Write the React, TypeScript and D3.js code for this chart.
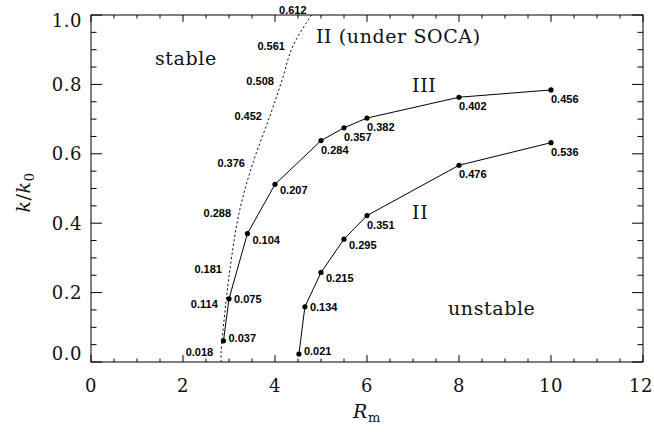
import React from 'react';
import * as d3 from 'd3';

const width = 654;
const height = 432;
const margin = {top: 15, right: 11, bottom: 70, left: 91};

// mode III (solid), growth rates printed next to the dots
const rmModeIII = [2.88, 3.0, 3.4, 4.0, 5.0, 5.5, 6.0, 8.0, 10.0];
const kModeIII = [0.061, 0.182, 0.37, 0.512, 0.638, 0.675, 0.703, 0.763, 0.784];
const rateModeIII = ['0.037', '0.075', '0.104', '0.207', '0.284', '0.357', '0.382', '0.402', '0.456'];

// mode II (solid)
const rmModeII = [4.52, 4.65, 5.0, 5.5, 6.0, 8.0, 10.0];
const kModeII = [0.023, 0.159, 0.258, 0.354, 0.422, 0.567, 0.632];
const rateModeII = ['0.021', '0.134', '0.215', '0.295', '0.351', '0.476', '0.536'];

// mode II under SOCA (dotted)
const rmSoca = [2.83, 2.93, 3.02, 3.22, 3.52, 3.89, 4.15, 4.39, 4.86];
const kSoca = [0.03, 0.167, 0.267, 0.43, 0.574, 0.709, 0.811, 0.911, 1.013];
const rateSoca = ['0.018', '0.114', '0.181', '0.288', '0.376', '0.452', '0.508', '0.561', '0.612'];

const xTicks = [0, 2, 4, 6, 8, 10, 12];
const yTicks = [0.0, 0.2, 0.4, 0.6, 0.8, 1.0];

const notes = [
  {text: 'stable', rm: 1.39, k: 0.856},
  {text: 'II (under SOCA)', rm: 4.89, k: 0.919},
  {text: 'III', rm: 6.98, k: 0.778},
  {text: 'II', rm: 6.98, k: 0.412},
  {text: 'unstable', rm: 7.76, k: 0.135},
];

const serif = '"DejaVu Serif", "Liberation Serif", serif';
const sans = '"Liberation Sans", Arial, sans-serif';

type Pt = {x: number; y: number; label: string};

export default function App() {
  const x0 = margin.left;
  const x1 = width - margin.right;
  const y0 = height - margin.bottom;
  const y1 = margin.top;

  const x = d3.scaleLinear().domain([0, 12]).range([x0, x1]);
  const y = d3.scaleLinear().domain([0, 1]).range([y0, y1]);

  const toPts = (rm: number[], k: number[], lab: string[]): Pt[] =>
    rm.map((r, i) => ({x: x(r), y: y(k[i]), label: lab[i]}));

  const curves = [
    toPts(rmModeIII, kModeIII, rateModeIII),
    toPts(rmModeII, kModeII, rateModeII),
  ];
  const soca = toPts(rmSoca, kSoca, rateSoca);

  const solid = d3.line<Pt>().x(d => d.x).y(d => d.y);
  const dotted = d3
    .line<Pt>()
    .x(d => d.x)
    .y(d => d.y)
    .curve(d3.curveCatmullRom);
  // run the dotted curve straight down to the axis
  const socaPath = dotted([{x: soca[0].x, y: y(0), label: ''}, ...soca]);

  // steep parts get the number to the right, flat parts below the dot
  const labelPos = (pts: Pt[], i: number) => {
    const a = pts[Math.max(i - 1, 0)];
    const b = pts[Math.min(i + 1, pts.length - 1)];
    const ratio = Math.abs(b.y - a.y) / Math.max(Math.abs(b.x - a.x), 0.01);
    if (ratio > 2.5) return {dx: 5, dy: i === 0 ? -3 : 0};
    if (ratio > 1) return {dx: 5, dy: 6};
    return {dx: 0, dy: 9};
  };

  const xMinor = d3.range(0, 12.01, 0.5);
  const yMinor = d3.range(0, 1.001, 0.05);
  const xTickLen = (y0 - y1) * 0.02;
  const yTickLen = (x1 - x0) * 0.02;

  return (
    <svg
      width={width}
      height={height}
      style={{position: 'absolute', left: 0, top: 0, background: '#fff'}}
    >
      <defs>
        <clipPath id="plot">
          <rect x={x0} y={y1} width={x1 - x0} height={y0 - y1} />
        </clipPath>
      </defs>

      <g stroke="#000" strokeWidth={1}>
        {xMinor.map(v => {
          const major = Math.abs(v % 2) < 1e-6;
          const l = major ? xTickLen : xTickLen / 2;
          return (
            <g key={'x' + v}>
              <line x1={x(v)} x2={x(v)} y1={y0} y2={y0 - l} />
              <line x1={x(v)} x2={x(v)} y1={y1} y2={y1 + l} />
            </g>
          );
        })}
        {yMinor.map((v, i) => {
          const major = i % 4 === 0;
          const l = major ? yTickLen : yTickLen / 2;
          return (
            <g key={'y' + i}>
              <line x1={x0} x2={x0 + l} y1={y(v)} y2={y(v)} />
              <line x1={x1} x2={x1 - l} y1={y(v)} y2={y(v)} />
            </g>
          );
        })}
        <rect x={x0} y={y1} width={x1 - x0} height={y0 - y1} fill="none" />
      </g>

      <g fontFamily={serif} fontSize={18} fill="#111" letterSpacing={0.5}>
        {xTicks.map(v => (
          <text
            key={v}
            x={Math.min(x(v), width - 13)}
            y={y0 + 30}
            textAnchor="middle"
          >
            {v}
          </text>
        ))}
        {yTicks.map(v => (
          <text
            key={v}
            x={x0 - 9}
            y={Math.min(Math.max(y(v), y1 + 5), y0 - 9)}
            textAnchor="end"
            dominantBaseline="central"
          >
            {v.toFixed(1)}
          </text>
        ))}
      </g>

      <g fontFamily={serif} fontSize={19} fill="#111" letterSpacing={0.6}>
        <text x={(x0 + x1) / 2} y={y0 + 56} textAnchor="middle">
          <tspan fontStyle="italic">R</tspan>
          <tspan fontSize={13} dy={4}>m</tspan>
        </text>
        <text
          transform={`translate(30,${(y0 + y1) / 2 + 4}) rotate(-90)`}
          textAnchor="middle"
        >
          <tspan fontStyle="italic">k</tspan>
          <tspan>/</tspan>
          <tspan fontStyle="italic">k</tspan>
          <tspan fontSize={13} dy={4}>0</tspan>
        </text>
        {notes.map(n => (
          <text key={n.text} x={x(n.rm)} y={y(n.k)}>
            {n.text}
          </text>
        ))}
      </g>

      <path
        d={socaPath || ''}
        fill="none"
        stroke="#000"
        strokeWidth={1}
        strokeDasharray="2,2.5"
        clipPath="url(#plot)"
      />
      {curves.map((pts, ci) => (
        <g key={ci}>
          <path d={solid(pts) || ''} fill="none" stroke="#000" strokeWidth={1} />
          {pts.map((p, i) => (
            <circle key={i} cx={p.x} cy={p.y} r={2.6} fill="#000" />
          ))}
        </g>
      ))}

      <g fontFamily={sans} fontWeight="bold" fontSize={11} fill="#000">
        {curves.map((pts, ci) =>
          pts.map((p, i) => {
            const o = labelPos(pts, i);
            return (
              <text
                key={ci + '-' + i}
                x={p.x + o.dx}
                y={p.y + o.dy}
                dominantBaseline="central"
              >
                {p.label}
              </text>
            );
          })
        )}
        {soca.map((p, i) => (
          <text
            key={'s' + i}
            x={p.x - 8}
            y={p.y}
            textAnchor="end"
            dominantBaseline="central"
          >
            {p.label}
          </text>
        ))}
      </g>
    </svg>
  );
}
